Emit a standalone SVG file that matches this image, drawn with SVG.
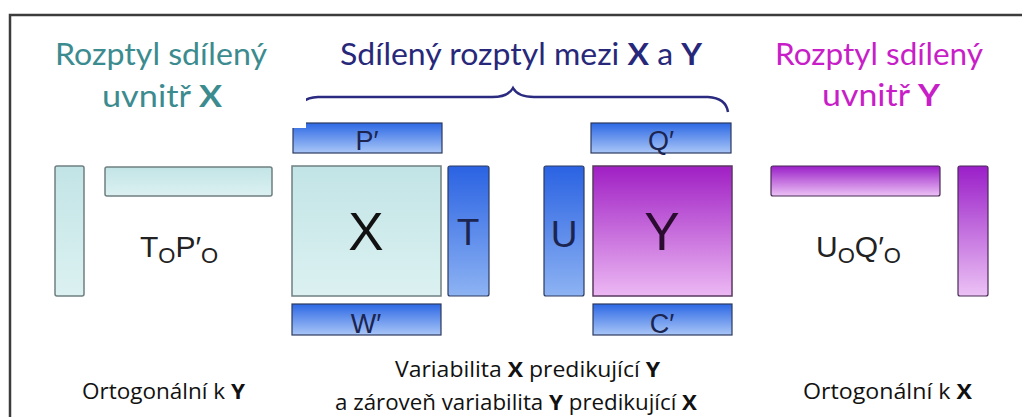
<svg xmlns="http://www.w3.org/2000/svg" width="1022" height="417" viewBox="0 0 1022 417">
  <defs>
    <linearGradient id="gBlue" x1="0" y1="0" x2="0" y2="1">
      <stop offset="0" stop-color="#2d68e4"/>
      <stop offset="1" stop-color="#a9c6f7"/>
    </linearGradient>
    <linearGradient id="gBlueV" x1="0" y1="0" x2="0" y2="1">
      <stop offset="0" stop-color="#2a62e2"/>
      <stop offset="1" stop-color="#8db3f3"/>
    </linearGradient>
    <linearGradient id="gTeal" x1="0" y1="0" x2="0" y2="1">
      <stop offset="0" stop-color="#c2e4e6"/>
      <stop offset="1" stop-color="#dcf1f1"/>
    </linearGradient>
    <linearGradient id="gPurple" x1="0" y1="0" x2="0" y2="1">
      <stop offset="0" stop-color="#9a1ec8"/>
      <stop offset="1" stop-color="#ecc2f5"/>
    </linearGradient>
    <linearGradient id="gY" x1="0" y1="0" x2="0" y2="1">
      <stop offset="0" stop-color="#a01fc4"/>
      <stop offset="1" stop-color="#ecb8f3"/>
    </linearGradient>
  </defs>
  <style>
    .title { font-family: Lato, "Open Sans", sans-serif; font-size: 31px; }
    .teal { fill: #3b8b8f; }
    .navy { fill: #28287a; }
    .mag { fill: #c81ec8; }
    .note { font-family: "Open Sans", Lato, sans-serif; font-size: 22px; fill: #111; }
    .lbl { font-family: "Liberation Sans", Arial, sans-serif; fill: #1c2550; text-anchor: middle; }
    .big { font-family: "Liberation Sans", Arial, sans-serif; font-size: 53px; text-anchor: middle; }
    .prod { font-family: "Liberation Sans", Arial, sans-serif; font-size: 30px; fill: #222; }
    .blue { fill: url(#gBlue); stroke: #2c3a60; stroke-width: 1.2; }
    .blueV { fill: url(#gBlueV); stroke: #2c3a60; stroke-width: 1.2; }
    .teal-box { fill: url(#gTeal); stroke: #6f7f80; stroke-width: 1.5; }
    .purple { fill: url(#gPurple); stroke: #4a2a55; stroke-width: 1.2; }
  </style>

  <rect width="1022" height="417" fill="#ffffff"/>

  <!-- frame -->
  <path d="M10 417 V15 H1022" fill="none" stroke="#3c3c3c" stroke-width="2.5"/>

  <!-- headings -->
  <g id="heading-x">
    <text class="title teal" x="55" y="65" textLength="212" lengthAdjust="spacingAndGlyphs">Rozptyl sdílený</text>
    <text class="title teal" x="102" y="107" textLength="120" lengthAdjust="spacingAndGlyphs">uvnitř  <tspan font-weight="bold">X</tspan></text>
  </g>
  <g id="heading-shared">
    <text class="title navy" x="340" y="65" textLength="362" lengthAdjust="spacingAndGlyphs">Sdílený rozptyl mezi <tspan font-weight="bold">X</tspan> a <tspan font-weight="bold">Y</tspan></text>
  </g>
  <g id="heading-y">
    <text class="title mag" x="775" y="65" textLength="208" lengthAdjust="spacingAndGlyphs">Rozptyl sdílený</text>
    <text class="title mag" x="822" y="106" textLength="118" lengthAdjust="spacingAndGlyphs">uvnitř  <tspan font-weight="bold">Y</tspan></text>
  </g>

  <!-- connectors: brace over the shared part -->
  <g id="connectors">
    <path d="M297 114 Q298 98 318 97 L492 97 Q508 97 513 88 Q518 97 534 97 L708 97 Q726 98 728 112" fill="none" stroke="#2a2a80" stroke-width="2.5"/>
  </g>

  <!-- orthogonal part of X -->
  <g id="x-ortho">
    <rect class="teal-box" x="55" y="166" width="29" height="130" rx="2"/>
    <rect class="teal-box" x="105" y="167" width="167" height="29" rx="2"/>
    <text class="prod" x="140" y="257">T<tspan font-size="22" dy="6">O</tspan><tspan dy="-6">P′</tspan><tspan font-size="22" dy="6">O</tspan></text>
  </g>

  <!-- X block -->
  <g id="x-block">
    <rect class="blue" x="293" y="123" width="149" height="30"/>
    <text class="lbl" x="367" y="150" font-size="27">P′</text>
    <rect class="teal-box" x="292" y="166" width="149" height="130"/>
    <text class="big" x="366" y="250" fill="#111">X</text>
    <rect class="blueV" x="448" y="166" width="41" height="130" rx="2"/>
    <text class="lbl" x="468" y="245" font-size="37" fill="#1c2550">T</text>
    <rect class="blue" x="292" y="304" width="149" height="31"/>
    <text class="lbl" x="366" y="333" font-size="27">W′</text>
  </g>

  <!-- Y block -->
  <g id="y-block">
    <rect class="blue" x="591" y="123" width="140" height="30"/>
    <text class="lbl" x="661" y="150" font-size="27">Q′</text>
    <rect class="blueV" x="544" y="166" width="40" height="130" rx="2"/>
    <text class="lbl" x="564" y="247" font-size="37">U</text>
    <rect x="593" y="166" width="139" height="130" fill="url(#gY)" stroke="#5a3a60" stroke-width="1.5"/>
    <text class="big" x="662" y="250" fill="#2a0c30">Y</text>
    <rect class="blue" x="593" y="304" width="139" height="31"/>
    <text class="lbl" x="662" y="333" font-size="27">C′</text>
  </g>

  <!-- white patch over the brace start -->
  <rect x="289" y="86" width="17" height="42" fill="#ffffff"/>

  <!-- orthogonal part of Y -->
  <g id="y-ortho">
    <rect class="purple" x="771" y="166" width="169" height="30" rx="2"/>
    <rect class="purple" x="958" y="166" width="30" height="130" rx="2"/>
    <text class="prod" x="816" y="257">U<tspan font-size="22" dy="6">O</tspan><tspan dy="-6">Q′</tspan><tspan font-size="22" dy="6">O</tspan></text>
  </g>

  <!-- captions -->
  <g id="caption-left">
    <text class="note" x="82" y="399" textLength="163" lengthAdjust="spacingAndGlyphs">Ortogonální k <tspan font-weight="bold">Y</tspan></text>
  </g>
  <g id="caption-center">
    <text class="note" x="395" y="377" textLength="265" lengthAdjust="spacingAndGlyphs">Variabilita <tspan font-weight="bold">X</tspan> predikující <tspan font-weight="bold">Y</tspan></text>
    <text class="note" x="335" y="410" textLength="362" lengthAdjust="spacingAndGlyphs">a zároveň variabilita <tspan font-weight="bold">Y</tspan> predikující <tspan font-weight="bold">X</tspan></text>
  </g>
  <g id="caption-right">
    <text class="note" x="803" y="399" textLength="169" lengthAdjust="spacingAndGlyphs">Ortogonální k <tspan font-weight="bold">X</tspan></text>
  </g>
</svg>
